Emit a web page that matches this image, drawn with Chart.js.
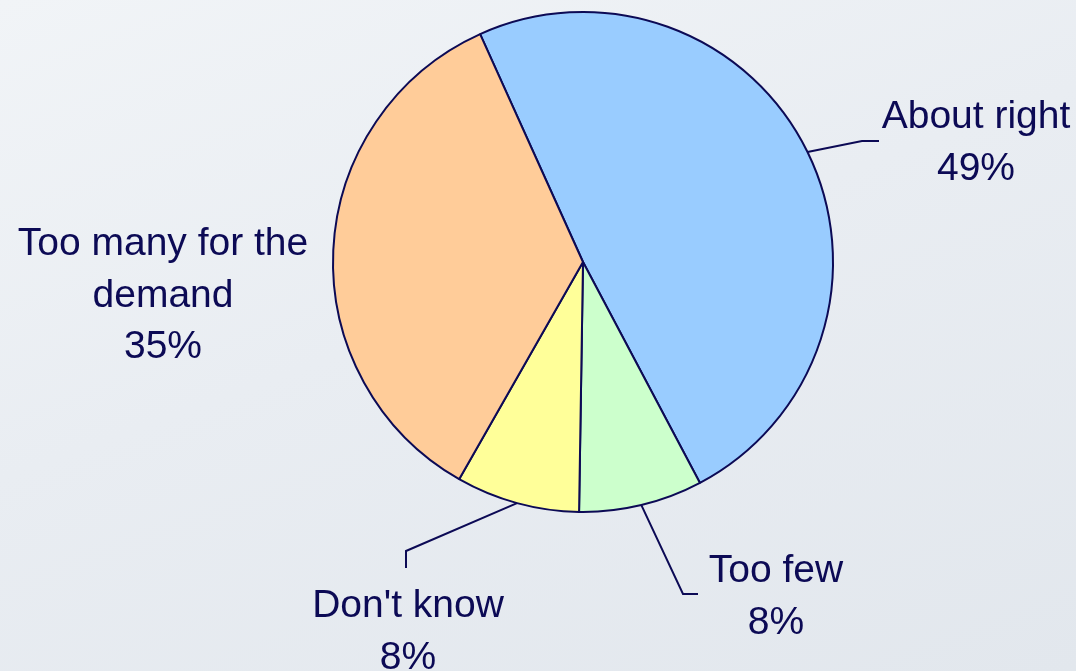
<!DOCTYPE html>
<html>
<head>
<meta charset="utf-8">
<script src="https://cdn.jsdelivr.net/npm/chart.js@4/dist/chart.umd.min.js"></script>
<style>
    html, body {
        margin: 0;
        padding: 0;
    }
    #wrap {
        width: 1076px;
        height: 671px;
        background: linear-gradient(160deg, #f1f4f7 0%, #e9edf2 45%, #e2e7ed 100%);
    }
</style>
</head>
<body>
<div id="wrap">
    <canvas id="pieChart" width="1076" height="671"></canvas>
</div>
<script>
// Chart data
const categories = ['About right', 'Too few', "Don't know", 'Too many for the demand'];
const percentages = [49, 8, 8, 35];
const sliceColors = ['#99ccff', '#ccffcc', '#ffff99', '#ffcc99'];

// Where each label sits (text centre x, first baseline y) and its leader elbow
const labelLayout = [
    { lines: ['About right'], x: 976, y: 128, leader: [[862, 141], [879, 141]] },
    { lines: ['Too few'], x: 776, y: 582, leader: [[683, 594], [698, 594]] },
    { lines: ["Don't know"], x: 408, y: 617, leader: [[406, 551], [406, 568]] },
    { lines: ['Too many for the', 'demand'], x: 163, y: 255, leader: null }
];

const inkColor = '#0c0a55';

const outsideLabels = {
    id: 'outsideLabels',
    afterDraw(chart) {
        const ctx = chart.ctx;
        const arcs = chart.getDatasetMeta(0).data;
        ctx.save();
        ctx.strokeStyle = inkColor;
        ctx.fillStyle = inkColor;
        ctx.lineWidth = 2;
        ctx.font = '39px "Liberation Sans", Arial, sans-serif';
        ctx.textAlign = 'center';
        ctx.textBaseline = 'alphabetic';

        arcs.forEach((arc, i) => {
            const p = arc.getProps(['x', 'y', 'startAngle', 'endAngle', 'outerRadius'], true);
            const mid = (p.startAngle + p.endAngle) / 2;
            const layout = labelLayout[i];

            if (layout.leader) {
                ctx.beginPath();
                ctx.moveTo(p.x + Math.cos(mid) * p.outerRadius, p.y + Math.sin(mid) * p.outerRadius);
                layout.leader.forEach(pt => ctx.lineTo(pt[0], pt[1]));
                ctx.stroke();
            }

            const texts = layout.lines.concat([percentages[i] + '%']);
            texts.forEach((t, k) => {
                ctx.fillText(t, layout.x, layout.y + k * 51.5);
            });
        });
        ctx.restore();
    }
};

new Chart(document.getElementById('pieChart').getContext('2d'), {
    type: 'pie',
    data: {
        labels: categories,
        datasets: [{
            data: percentages,
            backgroundColor: sliceColors,
            borderColor: inkColor,
            borderWidth: 2
        }]
    },
    options: {
        responsive: false,
        animation: false,
        rotation: -24.3,
        layout: {
            padding: { left: 332, top: 10, right: 242, bottom: 157 }
        },
        plugins: {
            legend: { display: false },
            tooltip: { enabled: false }
        }
    },
    plugins: [outsideLabels]
});
</script>
</body>
</html>
